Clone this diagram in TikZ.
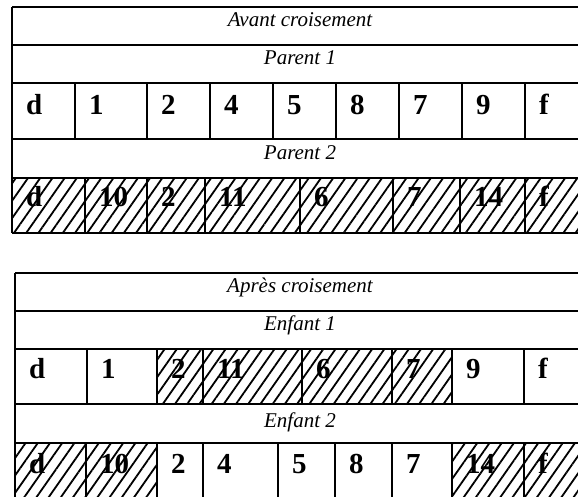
\documentclass[tikz,border=0pt]{standalone}
\usepackage{fontspec}
\setmainfont{Liberation Serif}
\usetikzlibrary{patterns.meta}

\begin{document}
\begin{tikzpicture}[x=1pt, y=-1pt,
  hline/.style     = {line width=1.8pt},
  vline/.style     = {line width=1.1pt},
  hatch/.style     = {pattern={Lines[angle=55, distance=10pt, line width=1.8pt]}},
  titletext/.style = {font=\fontsize{21}{23}\selectfont\itshape, anchor=base, inner sep=0pt},
  celltext/.style  = {font=\fontsize{29}{32}\selectfont\bfseries, anchor=base west, inner sep=0pt},
]
\useasboundingbox (0,0) rectangle (578,497);

%% ── Avant croisement ─────────────────────────────────────────────────────────
\fill[hatch] (12,178) rectangle (590,233);

\foreach \y in {7,45,83,139,178,233}
  \draw[hline] (12,\y) -- (590,\y);
\draw[hline] (12,7) -- (12,233);

\foreach \x in {75,147,210,273,336,399,462,525}
  \draw[vline] (\x,83) -- (\x,139);
\foreach \x in {85,147,205,300,393,460,525}
  \draw[vline] (\x,178) -- (\x,233);

\node[titletext] (avant)   at (300,27)  {Avant croisement};
\node[titletext] (parentA) at (300,65)  {Parent 1};
\node[titletext] (parentB) at (300,160) {Parent 2};

\foreach \x/\t [count=\i] in {12/d,75/1,147/2,210/4,273/5,336/8,399/7,462/9,525/f}
  \node[celltext] (pA\i) at (\x+14,115) {\t};
\foreach \x/\t [count=\i] in {12/d,85/10,147/2,205/11,300/6,393/7,460/14,525/f}
  \node[celltext] (pB\i) at (\x+14,207) {\t};

%% ── Après croisement ─────────────────────────────────────────────────────────
\fill[hatch] (157,349) rectangle (452,404);
\fill[hatch] (15,443) rectangle (157,505);
\fill[hatch] (452,443) rectangle (590,505);

\foreach \y in {273,311,349,404,443}
  \draw[hline] (15,\y) -- (590,\y);
\draw[hline] (15,273) -- (15,505);

\foreach \x in {87,157,203,302,392,452,524}
  \draw[vline] (\x,349) -- (\x,404);
\foreach \x in {86,157,203,278,335,392,452,524}
  \draw[vline] (\x,443) -- (\x,505);

\node[titletext] (apres)   at (300,292) {Après croisement};
\node[titletext] (enfantA) at (300,330) {Enfant 1};
\node[titletext] (enfantB) at (300,427) {Enfant 2};

\foreach \x/\t [count=\i] in {15/d,87/1,157/2,203/11,302/6,392/7,452/9,524/f}
  \node[celltext] (eA\i) at (\x+14,378) {\t};
\foreach \x/\t [count=\i] in {15/d,86/10,157/2,203/4,278/5,335/8,392/7,452/14,524/f}
  \node[celltext] (eB\i) at (\x+14,473) {\t};

\end{tikzpicture}
\end{document}
